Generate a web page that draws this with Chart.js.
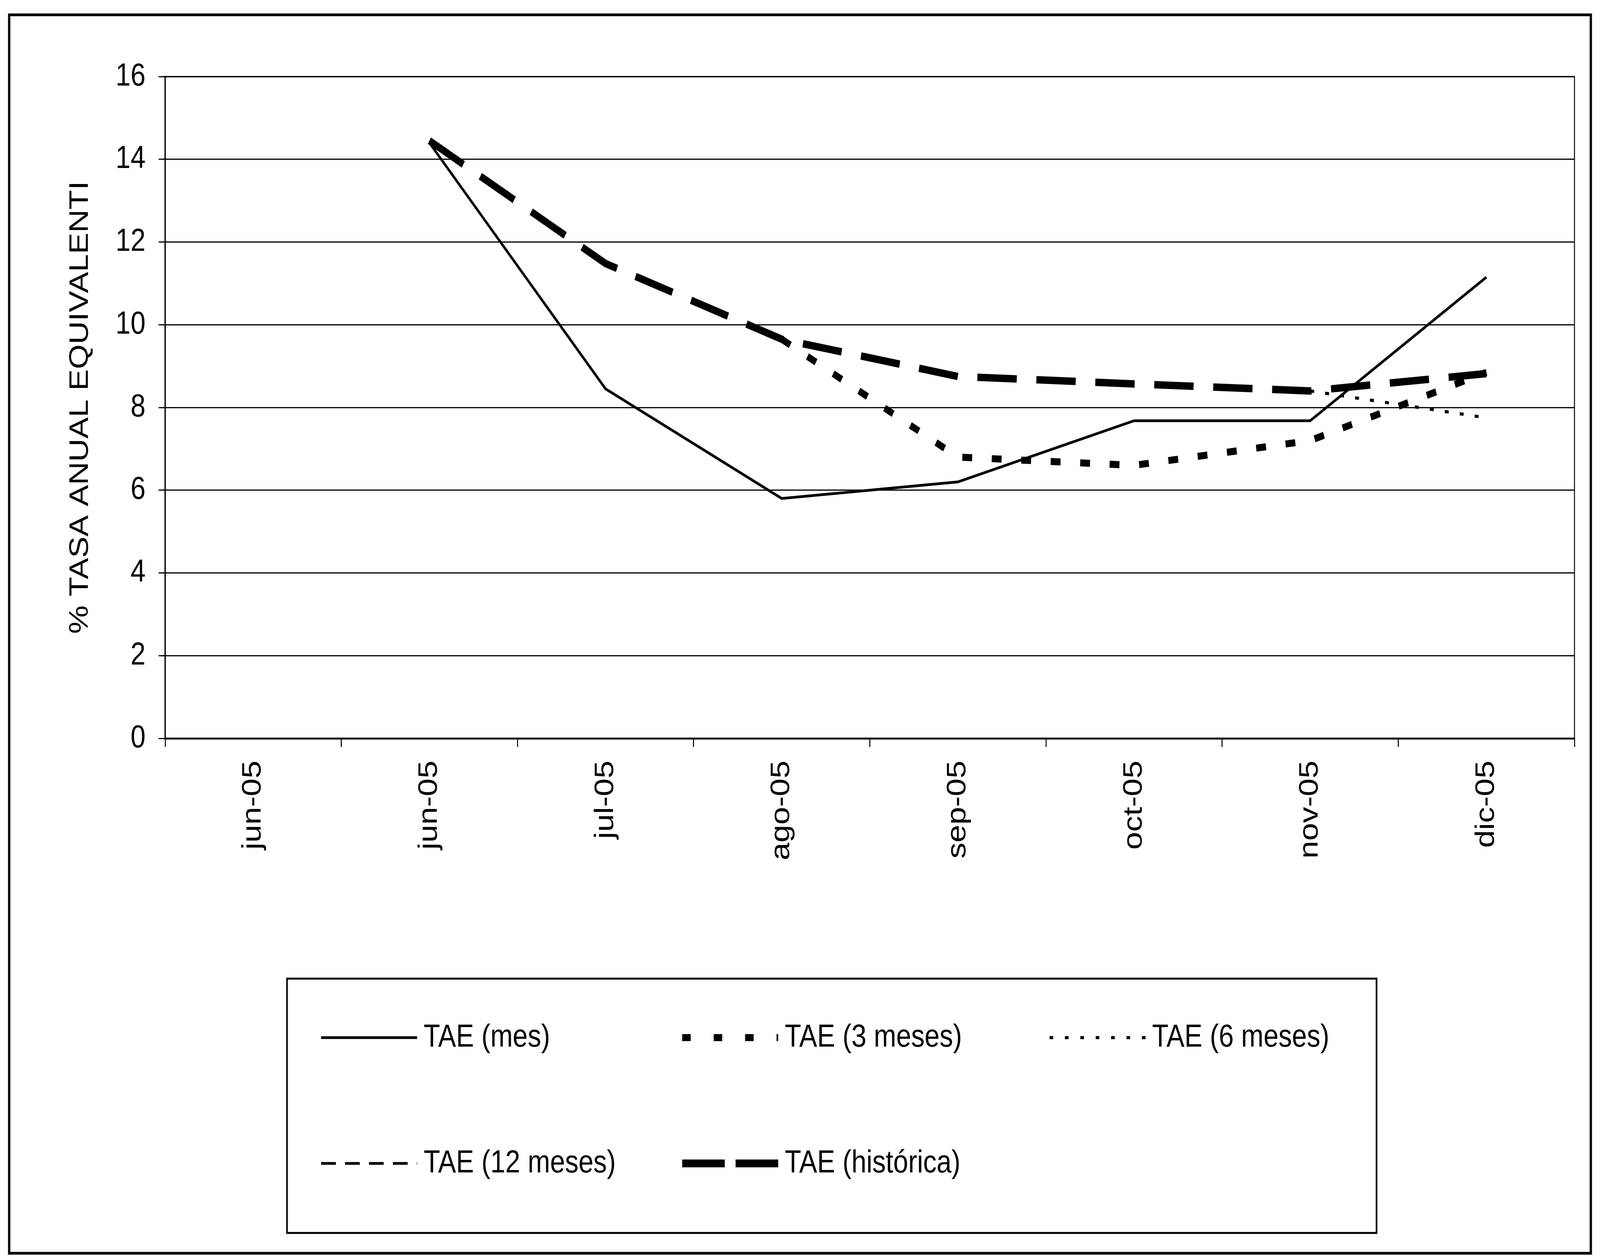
<!DOCTYPE html>
<html><head><meta charset="utf-8">
<script src="https://cdn.jsdelivr.net/npm/chart.js@4.4.1/dist/chart.umd.min.js"></script>
<style>html,body{margin:0;padding:0;background:#fff;overflow:hidden}
#wrap{position:absolute;left:0;top:0;width:4883px;height:3215px;transform-origin:0 0}</style></head>
<body><div id="wrap"><canvas id="c"></canvas></div>
<script>
// ---- data ----
const categories = ['jun-05','jun-05','jul-05','ago-05','sep-05','oct-05','nov-05','dic-05'];
const taeMes       = [null, 14.4, 8.45, 5.8, 6.2, 7.68, 7.68, 11.15];
const tae3Meses    = [null, null, null, 9.65, 6.8, 6.6, 7.2, 8.85];
const tae6Meses    = [null, null, null, null, null, null, 8.4, 7.75];
const tae12Meses   = [null, null, null, null, null, null, null, null];
const taeHistorica = [null, 14.45, 11.48, 9.65, 8.75, 8.57, 8.4, 8.82];
const seriesNames  = ['TAE (mes)', 'TAE (3 meses)', 'TAE (6 meses)', 'TAE (12 meses)', 'TAE (histórica)'];
const yAxisTitle   = '% TASA ANUAL EQUIVALENTI';
const yMin = 0, yMax = 16, yStep = 2;

// fit the 4883 x 3215 design into the actual viewport
const wrap = document.getElementById('wrap');
wrap.style.transform = 'scale(' + (window.innerWidth / 4883) + ',' + (window.innerHeight / 3215) + ')';

// ---- styles ----
const FONT = "'Liberation Sans', Arial, sans-serif";
const FS = 82;
const lineStyles = [
  {w: 7,  dash: [],        legendDash: [],        legendW: 7},
  {w: 18, dash: [30, 60],  legendDash: [26, 70],  legendW: 18},
  {w: 8,  dash: [12, 34],  legendDash: [11, 36],  legendW: 8},
  {w: 7,  dash: [45, 28],  legendDash: [45, 28],  legendW: 7},
  {w: 19, dash: [120, 60], legendDash: [130, 33], legendW: 20}
];
const seriesData = [taeMes, tae3Meses, tae6Meses, tae12Meses, taeHistorica];

const legendLayout = {box: [876, 2505, 4201, 3156], cols: [980, 2082, 3203], rows: [2656, 2978], lineLen: 293, gap: 20};

Chart.defaults.font.family = FONT;
Chart.defaults.color = '#000';

const framePlugin = {
  id: 'frame',
  beforeDraw(chart) {
    const ctx = chart.ctx;
    ctx.save(); ctx.fillStyle = '#fff'; ctx.fillRect(0, 0, chart.width, chart.height); ctx.restore();
  },
  afterDraw(chart) {
    const ctx = chart.ctx, a = chart.chartArea;
    ctx.save();
    ctx.strokeStyle = '#000'; ctx.setLineDash([]);
    ctx.lineWidth = 3;
    ctx.beginPath(); ctx.moveTo(a.left, a.top); ctx.lineTo(a.right, a.top); ctx.lineTo(a.right, a.bottom); ctx.stroke();
    ctx.lineWidth = 7;
    ctx.strokeRect(28, 38, chart.width - 56, chart.height - 45);
    // legend
    const L = legendLayout;
    ctx.lineWidth = 5;
    ctx.strokeRect(L.box[0], L.box[1], L.box[2] - L.box[0], L.box[3] - L.box[1]);
    ctx.font = FS + 'px ' + FONT;
    ctx.fillStyle = '#000'; ctx.textBaseline = 'middle'; ctx.textAlign = 'left';
    chart.data.datasets.forEach((ds, i) => {
      const st = lineStyles[i];
      const x = L.cols[i % 3], y = L.rows[Math.floor(i / 3)];
      ctx.lineWidth = st.legendW; ctx.lineCap = 'butt';
      ctx.setLineDash(st.legendDash);
      ctx.beginPath(); ctx.moveTo(x, y); ctx.lineTo(x + L.lineLen, y); ctx.stroke();
      ctx.setLineDash([]);
      ctx.fillText(ds.label, x + L.lineLen + L.gap, y);
    });
    ctx.restore();
  }
};

new Chart(document.getElementById('c'), {
  type: 'line',
  data: {
    labels: categories,
    datasets: seriesNames.map((name, i) => ({
      label: name,
      data: seriesData[i],
      borderColor: '#000',
      backgroundColor: '#000',
      borderWidth: lineStyles[i].w,
      borderDash: lineStyles[i].dash,
      borderCapStyle: 'butt',
      borderJoinStyle: 'miter',
      pointRadius: 0,
      pointHoverRadius: 0,
      tension: 0,
      fill: false,
      spanGaps: false
    }))
  },
  options: {
    responsive: true,
    maintainAspectRatio: false,
    devicePixelRatio: 1,
    animation: false,
    layout: {padding: {left: 0, top: 196, right: 78, bottom: 925}},
    plugins: {legend: {display: false}, tooltip: {enabled: false}, title: {display: false}},
    scales: {
      x: {
        type: 'category',
        offset: true,
        grid: {display: true, drawOnChartArea: false, drawTicks: true, tickLength: 22, offset: true, color: '#000', lineWidth: 3},
        border: {display: true, color: '#000', width: 5},
        ticks: {minRotation: 90, maxRotation: 90, autoSkip: false, padding: 35, font: {size: FS}, color: '#000'},
        afterFit(scale) { scale.height = 400; }
      },
      y: {
        min: yMin, max: yMax,
        grid: {color: '#000', lineWidth: 3, drawTicks: true, tickLength: 20},
        border: {display: true, color: '#000', width: 4},
        ticks: {stepSize: yStep, padding: 40, font: {size: FS}, color: '#000'},
        title: {display: true, text: yAxisTitle, font: {size: FS}, color: '#000', padding: {top: 196, bottom: 0}},
        afterFit(scale) { scale.width = 504; }
      }
    }
  },
  plugins: [framePlugin]
});
</script>
</body></html>
